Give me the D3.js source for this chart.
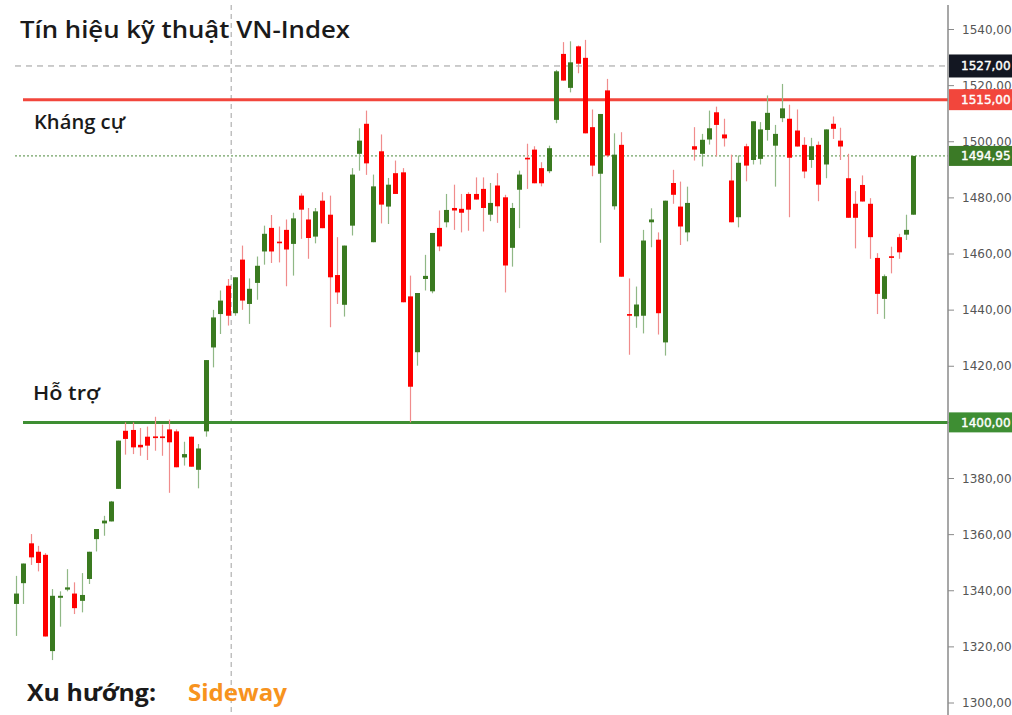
<!DOCTYPE html>
<html>
<head>
<meta charset="utf-8">
<script src="https://cdn.jsdelivr.net/npm/d3@7"></script>
<style>
  body { margin: 0; background: #fff; }
  svg { display: block; }
</style>
</head>
<body>
<svg id="chart"></svg>
<script>
// OHLC, one entry per session
var opens = [1335.3,1342.7,1356.9,1353.9,1352.8,1318.5,1337.5,1340.4,1339,1336.4,1344.2,1358.4,1364,1364.7,1376.3,1397,1397.3,1392,1394.9,1395,
  1395,1397.5,1396.8,1387.5,1394.9,1383.1,1396.8,1426.7,1438.6,1448.7,1438.9,1458,1442.2,1449.7,1460.9,1469.3,1464.4,1468.6,1463.6,1480.8,
  1472.3,1466.2,1479,1474,1452.5,1441.9,1470.1,1495.7,1506.4,1464.2,1496.6,1476.9,1488.8,1489.1,1444.9,1425,1451.1,1446.7,1469.3,1471.3,
  1476.4,1476.1,1481.4,1481.4,1483.2,1474,1484.4,1480.2,1462.2,1482.9,1494.3,1497.2,1490.6,1489.5,1507.8,1531.3,1519.2,1534,1529.9,1505.2,
  1488.6,1518.3,1477,1498.9,1438.6,1437.8,1438,1471.3,1465.1,1428.5,1485.3,1476.9,1467.7,1498.4,1495.7,1500.8,1510.5,1502.6,1486.2,1473.1,
  1498.4,1493.5,1493.9,1504.2,1498.6,1508.4,1508.2,1504,1498.9,1493.5,1498.9,1491.9,1506.4,1500.4,1487,1477.9,1484.6,1477.9,1458.6,1444,
  1459.2,1466,1466.9,1474];
var highs = [1345.3,1349.7,1360.2,1356,1353.4,1340.6,1339.8,1347.7,1343,1346.3,1353.9,1362,1366.7,1372,1393.5,1400,1400,1398,1398.5,1402,
  1399.2,1401,1397.5,1393.1,1394.9,1392.3,1422.2,1440.1,1447,1451.1,1451.7,1463,1451.3,1459.1,1470.1,1473.9,1469.8,1472.3,1474.7,1481.6,
  1476.4,1476.4,1482,1480.8,1466,1463,1490.6,1504.8,1511.1,1488.3,1502.6,1487.1,1493.3,1490.6,1452.3,1446.1,1459.7,1467.5,1475.5,1481.4,
  1484.7,1481.4,1482,1487.3,1487.3,1485.3,1488.8,1481.1,1478.2,1489.7,1499.3,1498.4,1492.7,1498.6,1525.6,1535.5,1535.8,1534.3,1536.3,1511.5,
  1509.9,1522.4,1503,1503.4,1451.3,1448.4,1468.6,1476.3,1467.7,1479,1490,1485.8,1484,1505.2,1502.8,1511.1,1512.5,1508.2,1495.4,1495.1,
  1499.3,1507.3,1507,1516.5,1506,1520.6,1513.2,1511.5,1501.6,1501.4,1500.1,1504.4,1509,1505,1495.7,1482.4,1488,1479.9,1460.3,1452.7,
  1462.6,1467.2,1474,1494.95];
var lows = [1323.9,1335.3,1349.2,1346.9,1323.7,1315.3,1327.2,1339.8,1331.7,1332.3,1342.4,1354,1359.6,1364.7,1376.3,1388.5,1388.7,1388.1,1386.6,1389.9,
  1388.1,1374.9,1384,1384.6,1384.2,1376.5,1394.9,1419.6,1431.5,1434.5,1438,1440.1,1435.1,1443.7,1456.2,1456.8,1457,1448.5,1452.3,1465.4,
  1458.3,1463.8,1469.2,1433.9,1442.2,1437.7,1466.6,1489.7,1488.2,1464.2,1470.9,1470.7,1481.4,1442.8,1400,1420.2,1447,1446,1461,1469.5,
  1468.6,1467.7,1468.3,1479.4,1468,1471.7,1471.1,1446.3,1455.5,1469.2,1483.2,1485.2,1484.1,1488.8,1506.6,1521.8,1517.6,1524.4,1503,1487.7,
  1464,1494.5,1475.8,1451.9,1424.1,1433.7,1431.7,1462.4,1431.3,1423.8,1477.9,1463.2,1464.5,1493.3,1491.2,1499,1494.8,1498.3,1471.3,1469.5,
  1485.9,1491.9,1491.9,1500.4,1484,1507,1473.1,1498.3,1487,1490.7,1478.8,1487,1501,1493.5,1472.9,1462,1478.7,1458.3,1438.6,1436.9,
  1453.1,1458.3,1465,1474];
var closes = [1339,1349.7,1351.9,1349.9,1323.7,1338.2,1338.2,1341.2,1333.8,1338.5,1353.9,1362,1365,1371.8,1393.5,1394.1,1391.1,1391.1,1391.7,1394.4,
  1394.4,1392.9,1384,1388.7,1384.2,1390.7,1422.2,1437.4,1443.4,1438,1451.7,1443.4,1447.6,1455.8,1467.2,1460.9,1464,1461.6,1472.7,1475.8,
  1465.7,1475.2,1469.2,1451.7,1446.3,1463,1488.3,1500.4,1492.3,1484.1,1477.6,1484.7,1481.4,1442.8,1412.7,1446.1,1452.2,1467.5,1462.7,1475.7,
  1475.5,1474.7,1475.8,1479.4,1476.4,1478.2,1477,1455.9,1476.4,1488.3,1493.7,1485.2,1485.2,1497.7,1525.1,1521.8,1528.3,1527.8,1503,1491.5,
  1509.9,1495.1,1495.4,1451.9,1438,1442,1464.8,1472.3,1438.9,1479,1481.1,1469.8,1478.2,1497.2,1500.7,1504.8,1506,1501.2,1471.3,1492.5,
  1491.5,1507.3,1504.4,1510.3,1502.8,1511.9,1494.3,1498.3,1489.4,1498.4,1484.7,1504.4,1504.6,1498.3,1472.9,1472.9,1478.7,1466,1445.8,1452.1,
  1458.6,1460.6,1468.6,1494.95];

var yTicks = d3.range(1300, 1541, 20);
var resistance = 1515, support = 1400, peakLevel = 1527, lastClose = 1494.95;
var crosshairIndex = 29.5;

var W = 1012, H = 715;
var axisX = 948;
var fmt = function(v) { return v.toFixed(2).replace(".", ","); };

var svg = d3.select("#chart").attr("width", W).attr("height", H);
svg.append("rect").attr("width", W).attr("height", H).attr("fill", "#fff");

var y = d3.scaleLinear().domain([1300, 1540]).range([703, 29.5]);
var x = d3.scalePoint().domain(d3.range(opens.length)).range([16, 913.3]);

var candles = opens.map(function(o, i) {
    return {i: i, o: o, h: highs[i], l: lows[i], c: closes[i]};
});

// vertical crosshair line
var cx = 16 + crosshairIndex * x.step();
svg.append("line")
    .attr("x1", cx).attr("x2", cx)
    .attr("y1", 5).attr("y2", H)
    .attr("stroke", "#b0b0b0").attr("stroke-width", 1.2)
    .attr("stroke-dasharray", "5,4");

// horizontal level lines
svg.append("line")
    .attr("x1", 15).attr("x2", axisX)
    .attr("y1", y(peakLevel)).attr("y2", y(peakLevel))
    .attr("stroke", "#9a9a9a").attr("stroke-width", 1)
    .attr("stroke-dasharray", "6,5");
svg.append("line")
    .attr("x1", 15).attr("x2", axisX)
    .attr("y1", y(lastClose)).attr("y2", y(lastClose))
    .attr("stroke", "#4d8a3c").attr("stroke-width", 1)
    .attr("stroke-dasharray", "2,2");
svg.append("line")
    .attr("x1", 23).attr("x2", axisX)
    .attr("y1", y(resistance)).attr("y2", y(resistance))
    .attr("stroke", "#f2463c").attr("stroke-width", 3);
svg.append("line")
    .attr("x1", 23).attr("x2", axisX)
    .attr("y1", y(support)).attr("y2", y(support))
    .attr("stroke", "#3e8e33").attr("stroke-width", 3);

// candles
var cg = svg.append("g").attr("class", "candles");
cg.selectAll("line")
    .data(candles)
    .enter()
    .append("line")
    .attr("x1", (d) => Math.round(x(d.i)) + 0.5)
    .attr("x2", (d) => Math.round(x(d.i)) + 0.5)
    .attr("y1", (d) => y(d.h))
    .attr("y2", (d) => y(d.l))
    .attr("stroke", (d) => d.c >= d.o ? "#90b886" : "#f08c8c")
    .attr("stroke-width", 1.2);
cg.selectAll("rect")
    .data(candles)
    .enter()
    .append("rect")
    .attr("x", (d) => Math.round(x(d.i)) + 0.5 - 2.5)
    .attr("width", 5)
    .attr("y", (d) => y(Math.max(d.o, d.c)))
    .attr("height", (d) => Math.max(1.6, Math.abs(y(d.o) - y(d.c))))
    .attr("fill", (d) => d.c >= d.o ? "#3a7a20" : "#ff0000");

// right price axis
svg.append("line")
    .attr("x1", axisX).attr("x2", axisX)
    .attr("y1", 5).attr("y2", H)
    .attr("stroke", "#8a8a8a").attr("stroke-width", 1.5);
var ag = svg.append("g").attr("class", "axis");
ag.selectAll("line.tick")
    .data(yTicks)
    .enter()
    .append("line")
    .attr("class", "tick")
    .attr("x1", axisX).attr("x2", axisX + 6)
    .attr("y1", (d) => y(d)).attr("y2", (d) => y(d))
    .attr("stroke", "#8a8a8a");
ag.selectAll("text")
    .data(yTicks)
    .enter()
    .append("text")
    .attr("x", 962)
    .attr("y", (d) => y(d))
    .attr("dy", "0.35em")
    .attr("font-family", "DejaVu Sans, sans-serif")
    .attr("font-size", "12px")
    .attr("fill", "#555")
    .text(fmt);

// price tags on the axis
var tags = [
    {v: peakLevel, bg: "#131722", hgt: 23},
    {v: resistance, bg: "#f2463c", hgt: 21},
    {v: lastClose, bg: "#3b7a26", hgt: 20},
    {v: support, bg: "#3e8e33", hgt: 20}
];
tags.forEach(function(t) {
    svg.append("rect")
        .attr("x", axisX + 1).attr("width", W - axisX)
        .attr("y", y(t.v) - t.hgt / 2).attr("height", t.hgt)
        .attr("fill", t.bg);
    svg.append("text")
        .attr("x", 961)
        .attr("y", y(t.v))
        .attr("dy", "0.35em")
        .attr("font-family", "DejaVu Sans, sans-serif")
        .attr("font-size", "12px")
        .attr("fill", "#fff")
        .attr("stroke", "#fff").attr("stroke-width", 0.4)
        .text(fmt(t.v));
});

// titles and annotations
var label = function(str, px, py, size, weight, color, len) {
    svg.append("text")
        .attr("x", px).attr("y", py)
        .attr("font-family", "Open Sans, sans-serif")
        .attr("font-size", size + "px").attr("font-weight", weight)
        .attr("fill", color)
        .attr("textLength", len)
        .attr("lengthAdjust", "spacingAndGlyphs")
        .text(str);
};
label("Tín hiệu kỹ thuật VN-Index", 20, 38, 24, 600, "#1a1a1a", 330);
label("Kháng cự", 34, 129, 19.5, 600, "#1a1a1a", 91);
label("Hỗ trợ", 33, 400, 19.5, 600, "#1a1a1a", 67);
label("Xu hướng:", 27, 701, 24, 700, "#1a1a1a", 129);
label("Sideway", 188, 701, 24, 700, "#f7931e", 99);
</script>
</body>
</html>
